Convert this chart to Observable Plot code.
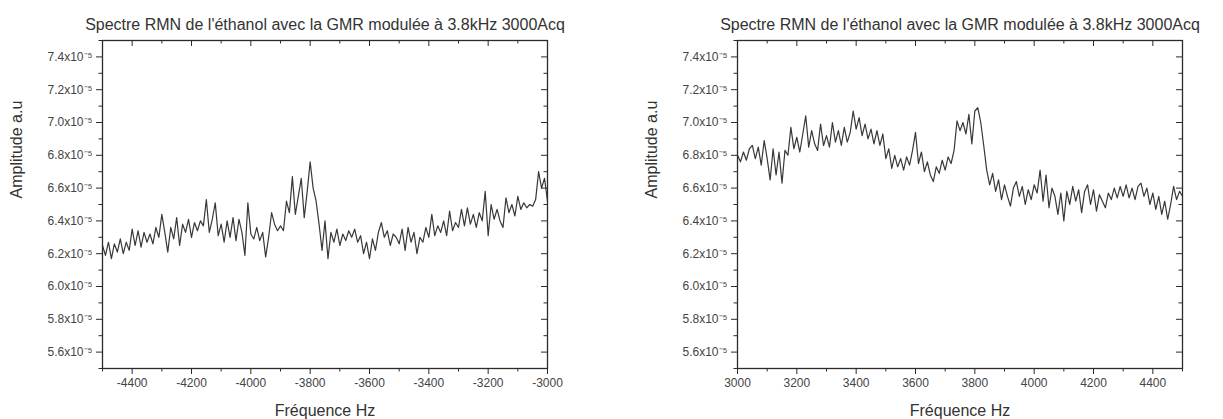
<!DOCTYPE html>
<html>
<head>
<meta charset="utf-8">
<script src="https://cdn.jsdelivr.net/npm/d3@7"></script>
<script src="https://cdn.jsdelivr.net/npm/@observablehq/plot@0.6"></script>
<style>
  html, body { margin: 0; padding: 0; background: #fff; }
  #wrap { display: flex; width: 1223px; height: 419px; }
  #wrap svg { display: block; }
</style>
</head>
<body>
<div id="wrap"><div id="left"></div><div id="right"></div></div>
<script>
// ---- data (amplitude in units of 1e-5, a.u.) ----
const titleText = "Spectre RMN de l'éthanol avec la GMR modulée à 3.8kHz 3000Acq";
const xLabel = "Fréquence Hz";
const yLabel = "Amplitude a.u";
const freqStep = 10;
const leftFreqStart = -4500;
const rightFreqStart = 3000;

const leftAmp = [
  6.25, 6.19, 6.27, 6.17, 6.26, 6.21, 6.29, 6.20, 6.27, 6.22,
  6.35, 6.25, 6.34, 6.24, 6.33, 6.27, 6.32, 6.26, 6.36, 6.30,
  6.44, 6.33, 6.21, 6.36, 6.29, 6.42, 6.25, 6.38, 6.33, 6.41,
  6.30, 6.39, 6.34, 6.40, 6.37, 6.53, 6.33, 6.41, 6.51, 6.31,
  6.38, 6.27, 6.40, 6.30, 6.42, 6.28, 6.41, 6.33, 6.19, 6.51,
  6.32, 6.29, 6.36, 6.28, 6.33, 6.18, 6.30, 6.45, 6.38, 6.34,
  6.37, 6.34, 6.52, 6.45, 6.67, 6.44, 6.55, 6.66, 6.42, 6.58,
  6.76, 6.60, 6.52, 6.38, 6.22, 6.40, 6.17, 6.33, 6.27, 6.35,
  6.25, 6.32, 6.28, 6.34, 6.30, 6.35, 6.27, 6.31, 6.20, 6.27,
  6.17, 6.29, 6.22, 6.33, 6.39, 6.30, 6.34, 6.25, 6.32, 6.30,
  6.26, 6.35, 6.22, 6.36, 6.27, 6.33, 6.20, 6.30, 6.27, 6.36,
  6.30, 6.44, 6.31, 6.37, 6.33, 6.40, 6.31, 6.46, 6.34, 6.39,
  6.36, 6.47, 6.37, 6.48, 6.38, 6.44, 6.36, 6.45, 6.40, 6.58,
  6.31, 6.50, 6.41, 6.47, 6.40, 6.36, 6.54, 6.45, 6.50, 6.43,
  6.55, 6.47, 6.51, 6.48, 6.50, 6.49, 6.53, 6.70, 6.60, 6.66,
  6.52
];

const rightAmp = [
  6.80, 6.76, 6.82, 6.77, 6.84, 6.86, 6.78, 6.85, 6.74, 6.89,
  6.78, 6.65, 6.84, 6.68, 6.82, 6.63, 6.83, 6.80, 6.97, 6.84,
  6.91, 6.82, 6.93, 7.04, 6.85, 6.95, 6.87, 6.83, 6.99, 6.86,
  6.92, 6.85, 7.00, 6.88, 6.95, 6.86, 6.97, 6.88, 6.94, 7.07,
  6.96, 7.03, 6.92, 6.99, 6.90, 6.96, 6.87, 6.95, 6.86, 6.93,
  6.78, 6.84, 6.72, 6.80, 6.73, 6.78, 6.71, 6.79, 6.74, 6.83,
  6.94, 6.75, 6.82, 6.70, 6.76, 6.68, 6.64, 6.73, 6.69, 6.77,
  6.71, 6.79, 6.75, 6.83, 7.01, 6.95, 7.00, 6.93, 7.05, 6.87,
  7.07, 7.09, 7.00, 6.86, 6.71, 6.62, 6.69, 6.58, 6.65, 6.53,
  6.62, 6.55, 6.49, 6.60, 6.64, 6.55, 6.61, 6.50, 6.59, 6.53,
  6.62, 6.57, 6.71, 6.52, 6.68, 6.48, 6.60, 6.55, 6.44, 6.57,
  6.40, 6.58, 6.50, 6.61, 6.52, 6.59, 6.45, 6.58, 6.62, 6.50,
  6.59, 6.46, 6.56, 6.52, 6.48, 6.57, 6.53, 6.60, 6.54, 6.61,
  6.55, 6.62, 6.54, 6.60, 6.53, 6.61, 6.63, 6.55, 6.60, 6.50,
  6.57, 6.47, 6.55, 6.44, 6.52, 6.41, 6.50, 6.61, 6.53, 6.58,
  6.55
];

const yMajor = [5.6, 5.8, 6.0, 6.2, 6.4, 6.6, 6.8, 7.0, 7.2, 7.4];
const yMinor = [5.5, 5.7, 5.9, 6.1, 6.3, 6.5, 6.7, 6.9, 7.1, 7.3, 7.5];
const leftXMajor = [-4400, -4200, -4000, -3800, -3600, -3400, -3200, -3000];
const leftXMinor = [-4500, -4300, -4100, -3900, -3700, -3500, -3300, -3100];
const rightXMajor = [3000, 3200, 3400, 3600, 3800, 4000, 4200, 4400];
const rightXMinor = [3100, 3300, 3500, 3700, 3900, 4100, 4300, 4500];

// ---- drawing ----
const W = 611, H = 419, MT = 40, MB = 51;
const ink = "#2b2b2b";
const fontFamily = "'Liberation Sans', Arial, Helvetica, sans-serif";
const yFmt = d => d.toFixed(1) + "x10\u207B\u2075";

function panel(amp, start, xDomain, xMajor, xMinor, ml, mr) {
  const data = amp.map((a, i) => ({f: start + i * freqStep, a}));
  const iw = W - ml - mr, ih = H - MT - MB;
  const majorLen = 6, minorLen = 3.5;
  return Plot.plot({
    width: W, height: H,
    marginLeft: ml, marginRight: mr, marginTop: MT, marginBottom: MB,
    style: {fontFamily, fontSize: "12px", color: ink, background: "#fff"},
    x: {domain: xDomain},
    y: {domain: [5.5, 7.5]},
    marks: [
      Plot.lineY(data, {x: "f", y: "a", stroke: "#383838", strokeWidth: 1.2}),
      // bottom axis (outward ticks)
      Plot.axisX({anchor: "bottom", ticks: xMajor, tickSize: majorLen, tickPadding: 4, tickFormat: d => String(d), fontSize: 12, fill: "#444", label: null, stroke: ink}),
      Plot.axisX({anchor: "bottom", ticks: xMinor, tickSize: minorLen, tickFormat: () => "", label: null, stroke: ink}),
      // left axis (outward ticks)
      Plot.axisY({anchor: "left", ticks: yMajor, tickSize: majorLen, tickPadding: 4, tickFormat: yFmt, fontSize: 12, fill: "#444", label: null, stroke: ink}),
      Plot.axisY({anchor: "left", ticks: yMinor, tickSize: minorLen, tickFormat: () => "", label: null, stroke: ink}),
      // top inward ticks
      Plot.tickX(xMajor, {x: d => d, insetBottom: ih - majorLen, stroke: ink}),
      Plot.tickX(xMinor, {x: d => d, insetBottom: ih - minorLen, stroke: ink}),
      // right inward ticks
      Plot.tickY(yMajor, {y: d => d, insetLeft: iw - majorLen, stroke: ink}),
      Plot.tickY(yMinor, {y: d => d, insetLeft: iw - minorLen, stroke: ink}),
      Plot.frame({stroke: ink, strokeWidth: 1.3}),
      // texts
      Plot.text([titleText], {text: d => d, frameAnchor: "top", lineAnchor: "middle", dy: -16, fontSize: 16, fill: "#333"}),
      Plot.text([xLabel], {text: d => d, frameAnchor: "bottom", lineAnchor: "middle", dy: 42, fontSize: 16, fill: "#333"}),
      Plot.text([yLabel], {text: d => d, frameAnchor: "left", lineAnchor: "middle", rotate: -90, dx: -85.5, dy: -6, fontSize: 16, fill: "#333"})
    ]
  });
}

document.getElementById("left").appendChild(
  panel(leftAmp, leftFreqStart, [-4500, -3000], leftXMajor, leftXMinor, 102, 64));
document.getElementById("right").appendChild(
  panel(rightAmp, rightFreqStart, [3000, 4500], rightXMajor, rightXMinor, 126, 40));
</script>
</body>
</html>
